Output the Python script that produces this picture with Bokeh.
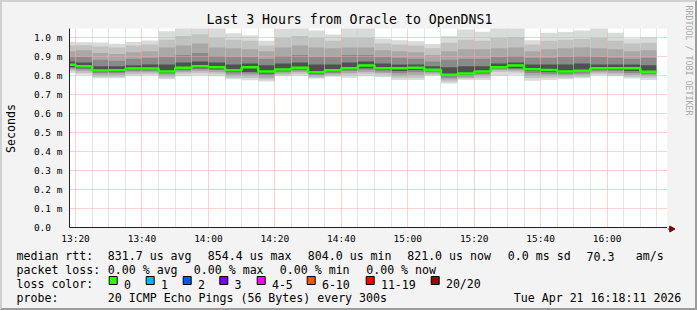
import math
from bokeh.plotting import figure
from bokeh.layouts import column, row
from bokeh.models import Range1d, FixedTicker
from bokeh.core.properties import value
from bokeh.embed import file_html
from bokeh.resources import INLINE

# ---------------- data ----------------
title_text = "Last 3 Hours from Oracle to OpenDNS1"
credit_text = "RRDTOOL / TOBI OETIKER"
range_start = "13:18:11"
range_end = "16:18:11"
step_minutes = 5

step_starts = ["13:15", "13:20", "13:25", "13:30", "13:35", "13:40", "13:45", "13:50",
               "13:55", "14:00", "14:05", "14:10", "14:15", "14:20", "14:25", "14:30",
               "14:35", "14:40", "14:45", "14:50", "14:55", "15:00", "15:05", "15:10",
               "15:15", "15:20", "15:25", "15:30", "15:35", "15:40", "15:45", "15:50",
               "15:55", "16:00", "16:05", "16:10"]

# median rtt in ms
median_ms = [0.858, 0.850, 0.828, 0.829, 0.838, 0.838, 0.823, 0.843, 0.850, 0.845, 0.829, 0.845,
             0.823, 0.833, 0.842, 0.818, 0.829, 0.840, 0.854, 0.840, 0.840, 0.842, 0.832, 0.806,
             0.812, 0.822, 0.845, 0.854, 0.834, 0.830, 0.823, 0.826, 0.840, 0.840, 0.840, 0.821]

# smoke bands: upper edges (outer -> inner) and lower edges (outer -> inner), ms
hi1 = [0.980, 0.977, 0.976, 0.969, 0.978, 0.987, 1.036, 1.055, 1.060, 1.060, 1.025, 1.013,
       0.985, 1.050, 1.055, 1.040, 1.018, 1.055, 1.055, 0.996, 0.988, 0.983, 0.968, 1.010,
       1.045, 1.033, 1.055, 1.060, 0.988, 1.027, 1.031, 1.040, 1.055, 1.027, 0.997, 1.004]
hi2 = [0.960, 0.962, 0.955, 0.950, 0.960, 0.965, 0.990, 1.010, 1.020, 1.000, 0.990, 0.985,
       0.960, 1.000, 1.010, 1.000, 0.985, 1.000, 1.000, 0.970, 0.965, 0.960, 0.945, 0.975,
       0.990, 0.985, 1.000, 1.005, 0.965, 0.985, 0.990, 0.995, 1.000, 0.985, 0.970, 0.975]
hi3 = [0.930, 0.935, 0.920, 0.915, 0.925, 0.930, 0.950, 0.960, 0.970, 0.950, 0.945, 0.940,
       0.930, 0.950, 0.960, 0.950, 0.945, 0.950, 0.950, 0.935, 0.930, 0.925, 0.910, 0.930,
       0.940, 0.940, 0.945, 0.950, 0.930, 0.940, 0.945, 0.950, 0.945, 0.940, 0.930, 0.935]
hi4 = [0.900, 0.900, 0.885, 0.880, 0.890, 0.895, 0.900, 0.910, 0.920, 0.905, 0.900, 0.900,
       0.890, 0.905, 0.910, 0.900, 0.900, 0.910, 0.910, 0.900, 0.895, 0.890, 0.875, 0.885,
       0.890, 0.890, 0.900, 0.905, 0.895, 0.895, 0.900, 0.905, 0.900, 0.895, 0.890, 0.895]
hi5 = [0.875, 0.870, 0.850, 0.850, 0.855, 0.860, 0.860, 0.870, 0.875, 0.870, 0.860, 0.865,
       0.855, 0.865, 0.870, 0.860, 0.860, 0.870, 0.875, 0.865, 0.860, 0.860, 0.850, 0.845,
       0.850, 0.850, 0.865, 0.870, 0.860, 0.860, 0.860, 0.865, 0.860, 0.860, 0.860, 0.855]
lo5 = [0.845, 0.840, 0.820, 0.820, 0.830, 0.830, 0.815, 0.835, 0.840, 0.835, 0.820, 0.820,
       0.812, 0.825, 0.835, 0.810, 0.822, 0.832, 0.840, 0.830, 0.825, 0.830, 0.825, 0.800,
       0.805, 0.815, 0.840, 0.840, 0.825, 0.820, 0.815, 0.820, 0.832, 0.830, 0.825, 0.815]
lo4 = [0.840, 0.835, 0.815, 0.815, 0.825, 0.825, 0.810, 0.828, 0.835, 0.830, 0.812, 0.812,
       0.800, 0.820, 0.828, 0.805, 0.815, 0.825, 0.832, 0.822, 0.815, 0.820, 0.820, 0.790,
       0.798, 0.808, 0.835, 0.835, 0.815, 0.810, 0.808, 0.812, 0.826, 0.825, 0.815, 0.808]
lo3 = [0.835, 0.825, 0.805, 0.805, 0.818, 0.818, 0.800, 0.820, 0.825, 0.820, 0.800, 0.800,
       0.790, 0.812, 0.820, 0.798, 0.808, 0.815, 0.820, 0.815, 0.800, 0.805, 0.812, 0.780,
       0.790, 0.800, 0.830, 0.828, 0.800, 0.800, 0.800, 0.805, 0.818, 0.815, 0.805, 0.800]
lo2 = [0.825, 0.815, 0.795, 0.795, 0.808, 0.810, 0.790, 0.810, 0.815, 0.810, 0.790, 0.788,
       0.780, 0.805, 0.810, 0.790, 0.800, 0.805, 0.810, 0.805, 0.790, 0.790, 0.805, 0.770,
       0.785, 0.790, 0.820, 0.818, 0.788, 0.790, 0.790, 0.795, 0.810, 0.805, 0.795, 0.790]
lo1 = [0.815, 0.805, 0.787, 0.787, 0.800, 0.803, 0.782, 0.798, 0.803, 0.798, 0.782, 0.776,
       0.769, 0.797, 0.800, 0.786, 0.795, 0.790, 0.797, 0.793, 0.778, 0.778, 0.800, 0.759,
       0.778, 0.778, 0.800, 0.805, 0.773, 0.778, 0.782, 0.787, 0.803, 0.798, 0.785, 0.778]

x_tick_labels = ["13:20", "13:40", "14:00", "14:20", "14:40", "15:00", "15:20", "15:40", "16:00"]
y_ticks = [0.0, 0.1, 0.2, 0.3, 0.4, 0.5, 0.6, 0.7, 0.8, 0.9, 1.0]
y_tick_labels = ["0.0", "0.1 m", "0.2 m", "0.3 m", "0.4 m", "0.5 m", "0.6 m", "0.7 m",
                 "0.8 m", "0.9 m", "1.0 m"]
y_axis_title = "Seconds"

legend_rtt = ["median rtt:", "831.7 us avg", "854.4 us max", "804.0 us min", "821.0 us now",
              "0.0 ms sd", "70.3", "am/s"]
legend_loss = ["packet loss:", "0.00 % avg", "0.00 % max", "0.00 % min", "0.00 % now"]
loss_title = "loss color:"
loss_labels = ["0", "1", "2", "3", "4-5", "6-10", "11-19", "20/20"]
loss_colors = ["#26ff00", "#00b8ff", "#0059ff", "#7e00ff", "#ff00ff", "#ff5500", "#ff0000", "#a00000"]
probe_row = ["probe:", "20 ICMP Echo Pings (56 Bytes) every 300s", "Tue Apr 21 16:18:11 2026"]


def to_min(s):
    parts = [int(v) for v in s.split(":")]
    while len(parts) < 3:
        parts.append(0)
    return parts[0] * 60 + parts[1] + parts[2] / 60.0


MONO = "DejaVu Sans Mono"
BG = "#f3f3f3"
x0 = to_min(range_start)
x1 = to_min(range_end)

# ---------------- layout (pixels) ----------------
BORDER = 2
W, H = 697, 310
IW = W - 2 * BORDER            # 693
H1 = 244                       # chart row height
H2 = H - 2 * BORDER - H1       # legend figure height (62)
FL, FR, FT, FB = 65, 665, 26, 226   # frame in chart-row pixels
LW = 28                        # strip left of the chart holding the y-axis title
RW = IW - FR                   # strip right of the frame (28)
PX_PER_MS = 190.0
Y_LO = -0.5 / PX_PER_MS        # half-pixel shift so the grid lines land on pixel centres
Y_HI = Y_LO + (FB - FT) / PX_PER_MS

p = figure(width=FR - LW, height=H1, x_range=Range1d(x0, x1), y_range=Range1d(Y_LO, Y_HI),
           output_backend="svg", toolbar_location=None,
           min_border_left=FL - LW, min_border_right=0, min_border_top=FT,
           min_border_bottom=H1 - FB)
p.frame_align = False
p.background_fill_color = "white"
p.border_fill_color = BG
p.outline_line_color = None

p.title.text = title_text
p.title.align = "left"
p.title.offset = 137
p.title.text_font = MONO
p.title.text_font_size = "13.2px"
p.title.text_font_style = "normal"
p.title.text_color = "black"
p.title.standoff = 3

# ---------------- smoke ----------------
lefts = [to_min(s) for s in step_starts]
rights = [v + step_minutes for v in lefts]
band_colors = ["#dadada", "#c2c2c2", "#a8a8a8", "#8a8a8a", "#505050"]
for top, bot, col in zip([hi1, hi2, hi3, hi4, hi5], [lo1, lo2, lo3, lo4, lo5], band_colors):
    p.quad(left=lefts, right=rights, top=top, bottom=bot, fill_color=col,
           line_color=None, level="image")

p.step(x=lefts + [rights[-1]], y=median_ms + [median_ms[-1]], mode="after",
       line_color="#26ff00", line_width=2.5)

# ---------------- axes / grid ----------------
x_major = [to_min(t) for t in x_tick_labels]
x_minor = [m for m in range(int(math.ceil(x0 / 5.0)) * 5, int(x1) + 1, 5) if m not in x_major]
p.xaxis.ticker = FixedTicker(ticks=x_major, minor_ticks=x_minor)
p.xaxis.major_label_overrides = {t: lab for t, lab in zip(x_major, x_tick_labels)}
p.yaxis.ticker = FixedTicker(ticks=y_ticks)
p.yaxis.major_label_overrides = {t: (lab if lab.endswith("m") else lab + "\u00a0\u00a0")
                                 for t, lab in zip(y_ticks, y_tick_labels)}

for ax in (p.xaxis, p.yaxis):
    ax.axis_line_color = "#202020"
    ax.axis_line_width = 1
    ax.major_tick_line_color = None
    ax.minor_tick_line_color = None
    ax.major_tick_out = 0
    ax.major_tick_in = 0
    ax.minor_tick_out = 0
    ax.minor_tick_in = 0
    ax.major_label_text_font = MONO
    ax.major_label_text_font_size = "9.5px"
    ax.major_label_text_color = "black"
p.xaxis.major_label_standoff = 5
p.yaxis.major_label_standoff = 7

p.xgrid.grid_line_color = "#f4a4a4"
p.xgrid.grid_line_dash = "1 1"
p.xgrid.minor_grid_line_color = "#cccccc"
p.xgrid.minor_grid_line_dash = "1 1"
p.ygrid.grid_line_color = "#f4a4a4"
p.ygrid.grid_line_dash = "1 1"

# ---------------- strip left of the chart (y-axis title), canvas pixels ----------------
l = figure(width=LW, height=H1, x_range=Range1d(BORDER, BORDER + LW),
           y_range=Range1d(BORDER + H1, BORDER), output_backend="svg", toolbar_location=None,
           x_axis_type=None, y_axis_type=None, min_border=0)
l.frame_align = False
l.background_fill_color = BG
l.border_fill_color = BG
l.outline_line_color = None
l.grid.visible = False
l.text(x=[10.8], y=[BORDER + (FT + FB) / 2.0], text=[y_axis_title], angle=math.pi / 2,
       text_font=value(MONO), text_font_size="11.6px", text_align="center",
       text_baseline="middle", text_color="black")

# ---------------- strip right of the chart (credit + axis arrow), canvas pixels ----------------
rx0 = BORDER + FR
r = figure(width=RW, height=H1, x_range=Range1d(rx0, rx0 + RW),
           y_range=Range1d(BORDER + H1, BORDER), output_backend="svg", toolbar_location=None,
           x_axis_type=None, y_axis_type=None, min_border=0)
r.frame_align = False
r.background_fill_color = BG
r.border_fill_color = BG
r.outline_line_color = None
r.grid.visible = False
axis_y = BORDER + FB + 0.5
r.segment(x0=[rx0], y0=[axis_y], x1=[rx0 + 3], y1=[axis_y], line_color="#202020", line_width=1)
r.scatter(x=[rx0 + 4], y=[axis_y], marker="triangle", size=6, angle=-math.pi / 2,
          fill_color="#7f0000", line_color="#7f0000")
r.text(x=[688.5], y=[5], text=[credit_text], angle=-math.pi / 2, text_font=value(MONO),
       text_font_size="8.3px", text_align="left", text_baseline="middle", text_color="#a8a8a8")

# ---------------- legend block (second figure, canvas pixels) ----------------
y_base = BORDER + H1   # canvas y of the legend figure top
q = figure(width=IW, height=H2, x_range=Range1d(BORDER, BORDER + IW),
           y_range=Range1d(y_base + H2, y_base), output_backend="svg", toolbar_location=None,
           x_axis_type=None, y_axis_type=None, min_border=0)
q.frame_align = False
q.background_fill_color = BG
q.border_fill_color = BG
q.outline_line_color = None
q.grid.visible = False

row_y = [255.7, 269.7, 283.5, 297.2]
rtt_x = [16, 107.3, 207.3, 307.3, 406.7, 507.3, 586.0, 635.3]
loss_x = [16, 107.3, 193.3, 279.3, 365.7]
box_x = [108.7, 145.7, 182.7, 219.3, 256.7, 306.7, 365.7, 430.7]
box_top, box_size = 276.0, 8
probe_x = [16, 107.3, 513.3]

tx, ty, tt = [], [], []
for xs, items, yy in ((rtt_x, legend_rtt, row_y[0]), (loss_x, legend_loss, row_y[1]),
                      (probe_x, probe_row, row_y[3])):
    for sx, s in zip(xs, items):
        tx.append(sx)
        ty.append(yy)
        tt.append(s)
tx.append(16)
ty.append(row_y[2])
tt.append(loss_title)
for bx, lab in zip(box_x, loss_labels):
    tx.append(bx + 14.7)
    ty.append(row_y[2])
    tt.append(lab)
q.text(x=tx, y=ty, text=tt, text_font=value(MONO), text_font_size="11.6px",
       text_baseline="alphabetic", text_align="left", text_color="black")
q.quad(left=box_x, right=[b + box_size for b in box_x], top=[box_top] * len(box_x),
       bottom=[box_top + box_size] * len(box_x), fill_color=loss_colors,
       line_color="black", line_width=1)

layout = column(row(l, p, r, spacing=0), q, spacing=0, styles={
    "border-top": "2px solid #d0d0d0", "border-left": "2px solid #d0d0d0",
    "border-right": "2px solid #9c9c9c", "border-bottom": "2px solid #9c9c9c",
    "background-color": BG})

open("out.html", "w").write(file_html(layout, INLINE))
